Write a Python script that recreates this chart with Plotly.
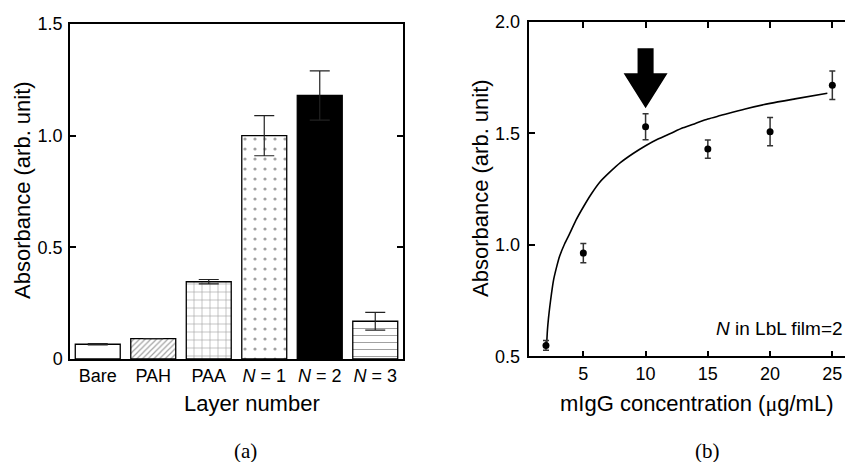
import plotly.graph_objects as go

# ---------------- data ----------------
categories = ["Bare", "PAH", "PAA", "<i>N</i> = 1", "<i>N</i> = 2", "<i>N</i> = 3"]
absorbance_layers = [0.066, 0.091, 0.346, 1.00, 1.18, 0.169]
absorbance_layers_err = [0.003, 0.0, 0.010, 0.090, 0.110, 0.040]

conc = [2, 5, 10, 15, 20, 25]
absorbance_conc = [0.549, 0.963, 1.530, 1.430, 1.508, 1.716]
absorbance_conc_err = [0.022, 0.043, 0.058, 0.041, 0.063, 0.064]

fit_conc = [2.05, 2.12, 2.2, 2.3, 2.45, 2.6, 2.85, 3.1, 3.5, 3.9, 4.4, 5.0, 5.6, 6.3, 7.1, 8.0, 9.0,
            10.0, 11.0, 12.0, 13.0, 14.0, 15.0, 16.0, 18.0, 20.0, 22.0, 24.6]
fit_abs = [0.55, 0.62, 0.67, 0.72, 0.785, 0.84, 0.90, 0.95, 1.005, 1.05, 1.11, 1.17, 1.225, 1.28, 1.325,
           1.37, 1.41, 1.445, 1.475, 1.50, 1.525, 1.545, 1.565, 1.58, 1.61, 1.635, 1.655, 1.68]

y_ticks_a = [0, 0.5, 1.0, 1.5]
y_ticktext_a = ["0", "0.5", "1.0", "1.5"]
x_ticks_b = [5, 10, 15, 20, 25]
y_ticks_b = [0.5, 1.0, 1.5, 2.0]
y_ticktext_b = ["0.5", "1.0", "1.5", "2.0"]

# arrow marking the chosen concentration
arrow_x = 10
arrow_tip, arrow_head_base, arrow_top = 1.613, 1.770, 1.882
arrow_shaft_half, arrow_head_half = 0.645, 1.765

W, H = 853, 462
OFF = 8  # page offset of the figure (body margin)
SANS = "Liberation Sans, Arial, sans-serif"
SERIF = "Liberation Serif, Times New Roman, serif"


def px(x):
    return (x - OFF) / W


def py(y):
    return 1 - (y - OFF) / H


# right panel x axis: 0.66 at page x 529.3, 12.45 px per unit, domain to the figure edge
x2_left_px = 529.3
x2_right = 0.66 + ((W + OFF) - x2_left_px) / 12.45

fig = go.Figure()

fig.add_trace(go.Bar(
    x=categories, y=absorbance_layers, width=0.81,
    marker=dict(
        color=["white", "white", "white", "white", "black", "white"],
        line=dict(color="black", width=1.3),
        pattern=dict(shape=["", "/", "+", ".", "", "-"],
                     fgcolor="black", bgcolor="white",
                     size=[6, 4, 8, 10, 6, 7],
                     solidity=[0.1, 0.3, 0.15, 0.08, 0.1, 0.15]),
    ),
    error_y=dict(type="data", array=absorbance_layers_err, color="#222",
                 thickness=1.2, width=10),
    xaxis="x", yaxis="y", showlegend=False,
))

fig.add_trace(go.Scatter(
    x=fit_conc, y=fit_abs, mode="lines",
    line=dict(color="black", width=1.6, shape="spline", smoothing=0.6),
    xaxis="x2", yaxis="y2", showlegend=False,
))

fig.add_trace(go.Scatter(
    x=conc, y=absorbance_conc, mode="markers",
    marker=dict(color="black", size=7),
    error_y=dict(type="data", array=absorbance_conc_err, color="#333",
                 thickness=1.5, width=3),
    xaxis="x2", yaxis="y2", showlegend=False,
))

arrow_path = (
    f"M {arrow_x - arrow_shaft_half},{arrow_top} "
    f"L {arrow_x + arrow_shaft_half},{arrow_top} "
    f"L {arrow_x + arrow_shaft_half},{arrow_head_base} "
    f"L {arrow_x + arrow_head_half},{arrow_head_base} "
    f"L {arrow_x},{arrow_tip} "
    f"L {arrow_x - arrow_head_half},{arrow_head_base} "
    f"L {arrow_x - arrow_shaft_half},{arrow_head_base} Z"
)

axis_common = dict(showgrid=False, zeroline=False, showline=True, linecolor="black",
                   linewidth=1.5, automargin=False,
                   tickfont=dict(family=SANS, size=18, color="black"))


def label(text, x, y, size=22, family=SANS, angle=0, xanchor="center"):
    return dict(text=text, x=px(x), y=py(y), xref="paper", yref="paper",
                xanchor=xanchor, yanchor="middle", textangle=angle,
                showarrow=False, font=dict(family=family, size=size, color="black"))


fig.update_layout(
    width=W, height=H, autosize=False,
    margin=dict(l=0, r=0, t=0, b=0, pad=0, autoexpand=False),
    paper_bgcolor="white", plot_bgcolor="white",
    font=dict(family=SANS, color="black"),
    xaxis=dict(domain=[px(70), px(403)], range=[-0.5, 5.5], mirror=True,
               ticks="", anchor="y", **axis_common),
    yaxis=dict(domain=[py(359), py(24)], range=[0, 1.5], mirror="ticks",
               ticks="inside", ticklen=6, tickwidth=1.5, tickcolor="black",
               tickvals=y_ticks_a, ticktext=y_ticktext_a, anchor="x",
               ticklabelstandoff=2, **axis_common),
    xaxis2=dict(domain=[px(x2_left_px), 1.0], range=[0.66, x2_right], mirror="ticks",
                ticks="inside", ticklen=6, tickwidth=1.5, tickcolor="black",
                tickvals=x_ticks_b, anchor="y2", **axis_common),
    yaxis2=dict(domain=[py(356.3), py(22)], range=[0.5, 2.0], mirror=False,
                ticks="inside", ticklen=6, tickwidth=1.5, tickcolor="black",
                tickvals=y_ticks_b, ticktext=y_ticktext_b, anchor="x2",
                ticklabelstandoff=4, **axis_common),
    shapes=[dict(type="path", path=arrow_path, xref="x2", yref="y2",
                 fillcolor="black", line=dict(color="black", width=0))],
    annotations=[
        label("Absorbance (arb. unit)", 22, 190, angle=-90),
        label("Layer number", 252, 403),
        label("Absorbance (arb. unit)", 480, 188, angle=-90),
        label('mIgG concentration (<span style="font-family:Liberation Serif">μ</span>g/mL)', 696, 403),
        label("<i>N</i> in LbL film=2", 845, 328, size=19, xanchor="right"),
        label("(a)", 245, 451, size=21, family=SERIF),
        label("(b)", 707, 451, size=21, family=SERIF),
    ],
)

fig.write_html("out.html")
